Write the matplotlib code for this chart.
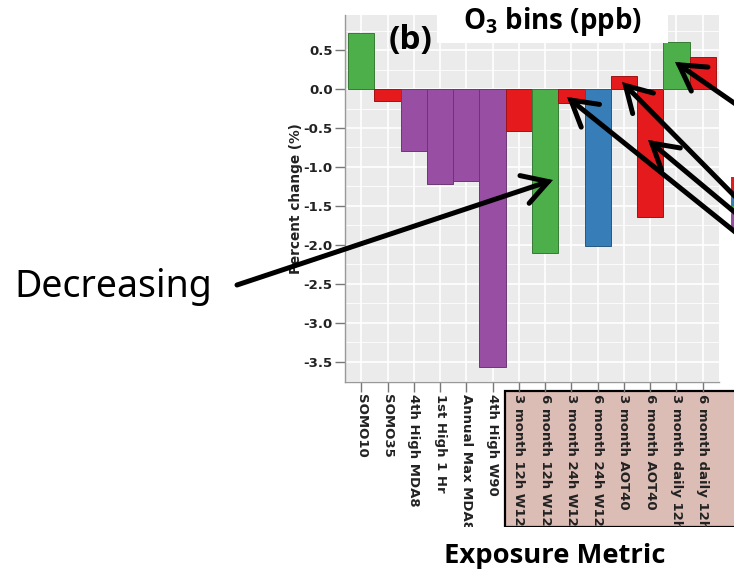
import matplotlib.pyplot as plt
import matplotlib.colors as mcolors
from matplotlib.patches import Rectangle, FancyArrowPatch
from matplotlib.ticker import MultipleLocator

# exposure metrics and percent change
metrics = ['SOMO10', 'SOMO35', '4th High MDA8', '1st High 1 Hr', 'Annual Max MDA8',
           '4th High W90', '3 month 12h W126', '6 month 12h W126', '3 month 24h W126',
           '6 month 24h W126', '3 month AOT40', '6 month AOT40', '3 month daily 12h',
           '6 month daily 12h']
pct_change = [0.72, -0.15, -0.79, -1.22, -1.18, -3.57, -0.54, -2.10, -0.18, -2.02,
              0.17, -1.64, 0.60, 0.41]
bin_group = ['green', 'red', 'purple', 'purple', 'purple', 'purple', 'red', 'green',
             'red', 'blue', 'red', 'red', 'green', 'red']
palette = {'red': '#e41a1c', 'blue': '#377eb8', 'green': '#4daf4a', 'purple': '#984ea3'}

W, H = 734, 573
fig = plt.figure(figsize=(W / 100, H / 100), dpi=100)

def fx(x):
    return x / W

def fy(y):
    return 1 - y / H

# axes placed in pixel terms (left 345, right 719, top 15, bottom 382)
ax = fig.add_axes([fx(345), fy(382), fx(719 - 345), (382 - 15) / H])
ax.set_facecolor('#ebebeb')

cols = [palette[g] for g in bin_group]
edges = [tuple(c * 0.7 for c in mcolors.to_rgb(col)) for col in cols]
ax.bar(range(len(metrics)), pct_change, width=1.0, color=cols,
       edgecolor=edges, linewidth=0.7, zorder=3)

ax.set_xlim(-0.62, len(metrics) - 1 + 0.62)
ax.set_ylim(-3.76, 0.95)
ax.yaxis.set_major_locator(MultipleLocator(0.5))
ax.yaxis.set_minor_locator(MultipleLocator(0.25))
ax.set_xticks(range(len(metrics)))
ax.grid(which='major', color='white', linewidth=1.2, zorder=0)
ax.grid(which='minor', axis='y', color='white', linewidth=0.6, zorder=0)
ax.set_axisbelow(True)

for s in ['top', 'right']:
    ax.spines[s].set_visible(False)
for s in ['left', 'bottom']:
    ax.spines[s].set_color('#999999')
    ax.spines[s].set_linewidth(1.0)

tick_font = dict(family='DejaVu Sans', weight='bold', size=9.5)
ax.set_xticklabels(metrics, rotation=-90, ha='center', va='top', color='#222222', **tick_font)
ax.set_yticklabels(['%.1f' % v for v in ax.get_yticks()], color='#222222', **tick_font)
ax.tick_params(which='major', length=7, width=1.0, color='#777777', pad=2)
ax.tick_params(which='minor', length=0)
ax.set_ylabel('Percent change (%)', family='DejaVu Sans', weight='bold', size=9.8,
              color='#222222', labelpad=0)

# shaded box behind the W126 / AOT40 / daily metrics
fig.add_artist(Rectangle((fx(505), fy(527)), fx(240), (527 - 391) / H,
                         transform=fig.transFigure, facecolor='#dcbdb5',
                         edgecolor='black', linewidth=1.6, zorder=-1))
# white strip below (cropped region)
fig.add_artist(Rectangle((0, 0), 1, (H - 527) / H, transform=fig.transFigure,
                         facecolor='white', edgecolor='none', zorder=2))
# white box with title
fig.add_artist(Rectangle((fx(437), fy(43)), fx(668 - 437), 43 / H,
                         transform=fig.transFigure, facecolor='white',
                         edgecolor='none', zorder=2))
fig.text(fx(553), fy(21), r'O$_\mathregular{3}$ bins (ppb)', ha='center', va='center',
         family='Open Sans', weight='bold', size=20, zorder=3)

fig.text(fx(411), fy(40), '(b)', ha='center', va='center', family='Open Sans',
         weight='bold', size=24, zorder=3)
fig.text(fx(113), fy(287), 'Decreasing', ha='center', va='center', family='Noto Sans',
         size=27, zorder=3)
fig.text(fx(555), fy(556), 'Exposure Metric', ha='center', va='center',
         family='Open Sans', weight='bold', size=19.7, zorder=3)

# cut-off legend keys on the right edge
legend_keys = [('red', 177, 197), ('blue', 197, 206), ('green', 206, 214), ('purple', 214, 228)]
for key, y0, y1 in legend_keys:
    fig.add_artist(Rectangle((fx(731), fy(y1)), fx(6), (y1 - y0) / H,
                             transform=fig.transFigure, facecolor=palette[key],
                             edgecolor='none', zorder=2))

# arrows (tail -> tip) in image pixels
arrows = [((237, 285), (553, 180)),
          ((780, 268), (567, 97)),
          ((780, 242), (622, 82)),
          ((780, 250), (648, 140)),
          ((750, 114), (675, 62))]
for (tx, ty), (hx, hy) in arrows:
    fig.add_artist(FancyArrowPatch(
        (fx(tx), fy(ty)), (fx(hx), fy(hy)), transform=fig.transFigure,
        arrowstyle='->,head_length=6,head_width=3.5', mutation_scale=3,
        color='black', linewidth=3.6, capstyle='round', joinstyle='miter',
        shrinkA=0, shrinkB=0, zorder=4))

fig.savefig('out.png', dpi=100)
